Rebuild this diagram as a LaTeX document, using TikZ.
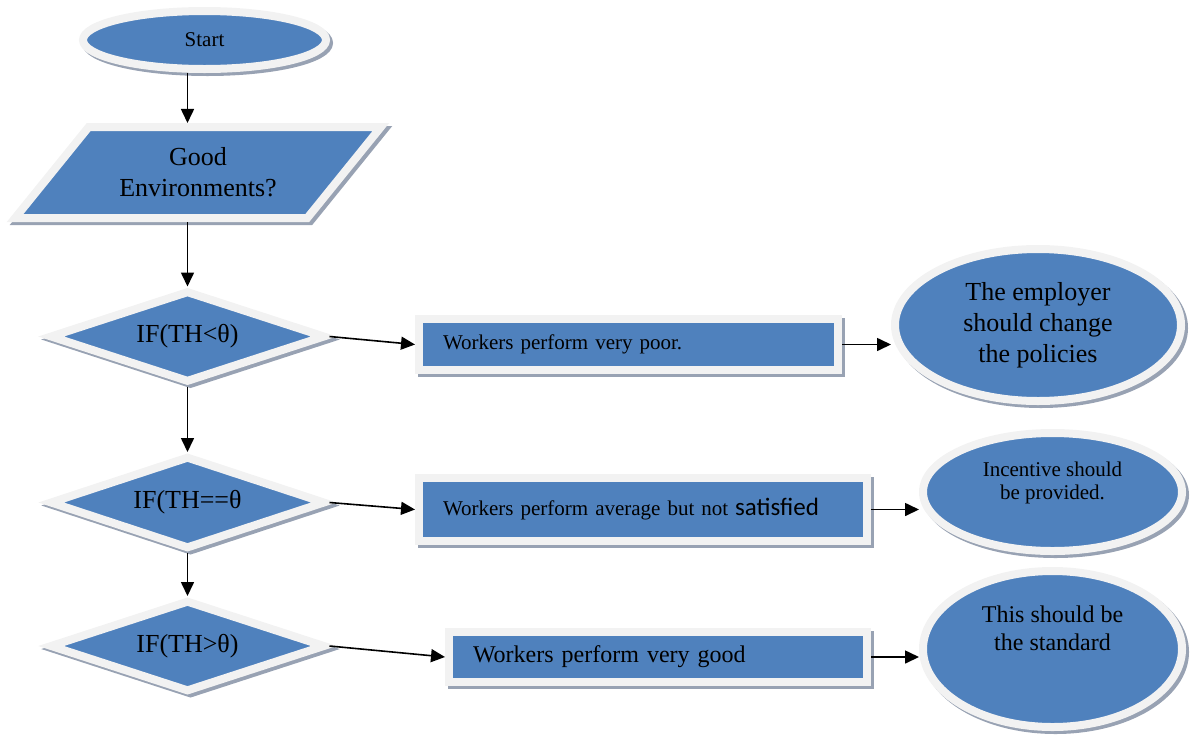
\documentclass[tikz,border=0pt]{standalone}
\usepackage{fontspec}
\setmainfont{Liberation Serif}
\newfontfamily\satfont{Carlito}
\usetikzlibrary{shapes.geometric,shadows,arrows.meta}
\definecolor{fblue}{HTML}{4F81BD}
\definecolor{fring}{HTML}{F2F2F2}
\definecolor{fshade}{HTML}{98A2B3}
\tikzset{
  fnode/.style = {fill=fblue, draw=fring, line width=8pt, inner sep=0pt, text=black,
    drop shadow={shadow xshift=3pt, shadow yshift=-3pt, opacity=1, fill=fshade, draw=fshade, line width=8pt}},
  fstart/.style = {fnode, ellipse, font=\fontsize{21}{25}\selectfont},
  fio/.style = {fnode, trapezium, trapezium left angle=43, trapezium right angle=137,
    trapezium stretches, align=center, font=\fontsize{26}{31}\selectfont},
  fdec/.style = {fnode, diamond, aspect=3, minimum width=276pt, minimum height=92pt, font=\fontsize{26}{31}\selectfont},
  fproc/.style = {fnode, rectangle, inner xsep=24pt, align=left},
  fend/.style = {fnode, ellipse, align=center},
  farrow/.style = {line width=1.6pt, -{Triangle[length=14pt,width=13pt]}},
}

\begin{document}
\begin{tikzpicture}[x=1pt, y=-1pt]
\useasboundingbox (0,0) rectangle (1190,734);
% decisions
\node [fstart, minimum width=243pt, minimum height=58pt] (start) at (204.5,40) {Start};
\node [fio, minimum width=367pt, minimum height=91pt] (env) at (198,172.5) {Good\\Environments?};
\node [fdec] (lt) at (187.5,336.5) {IF(TH<θ)};
\node [fdec, minimum height=93pt] (eq) at (187.5,502.5) {IF(TH==θ};
\node [fdec] (gt) at (187.5,646) {IF(TH>θ)};
% outcomes
\node [fproc, minimum height=51pt, text width=371pt, font=\fontsize{21}{25}\selectfont] (poor) at (628.5,344.5)
  {Workers perform very poor.};
\node [fproc, minimum height=63pt, text width=400pt, font=\fontsize{21}{25}\selectfont] (avg) at (643,509.5)
  {Workers perform average but not {\satfont\fontsize{25}{28}\selectfont satisfied}};
\node [fproc, minimum height=50pt, text width=370pt, font=\fontsize{24}{28}\selectfont] (good) at (658,657)
  {Workers perform very good};
% actions
\node [fend, minimum width=286pt, minimum height=152pt, font=\fontsize{26}{31}\selectfont] (policy) at (1038,325)
  {The employer\\should change\\the policies};
\node [fend, minimum width=259pt, minimum height=118pt, font=\fontsize{21}{23}\selectfont] (incent) at (1052.5,492)
  {\begin{tabular}{@{}c@{}}Incentive should\\be provided.\\[17pt]\end{tabular}};
\node [fend, minimum width=259pt, minimum height=156pt, font=\fontsize{24}{28}\selectfont] (std) at (1052.5,649)
  {\begin{tabular}{@{}c@{}}This should be\\the standard\\[36pt]\end{tabular}};
% arrows
\draw [farrow] (start.south -| lt) -- (env.north -| lt);
\draw [farrow] (env.south -| lt) -- (lt.north);
\draw [farrow] (lt.south) -- (eq.north);
\draw [farrow] (eq.south) -- (gt.north);
\draw [farrow] (lt.east) -- (poor.west);
\draw [farrow] (eq.east) -- (avg.west);
\draw [farrow] (gt.east) -- (good.west);
\draw [farrow] (poor.east) -- (poor.east -| policy.west);
\draw [farrow] (avg.east) -- (avg.east -| incent.west);
\draw [farrow] (good.east) -- (good.east -| std.west);
\end{tikzpicture}
\end{document}
